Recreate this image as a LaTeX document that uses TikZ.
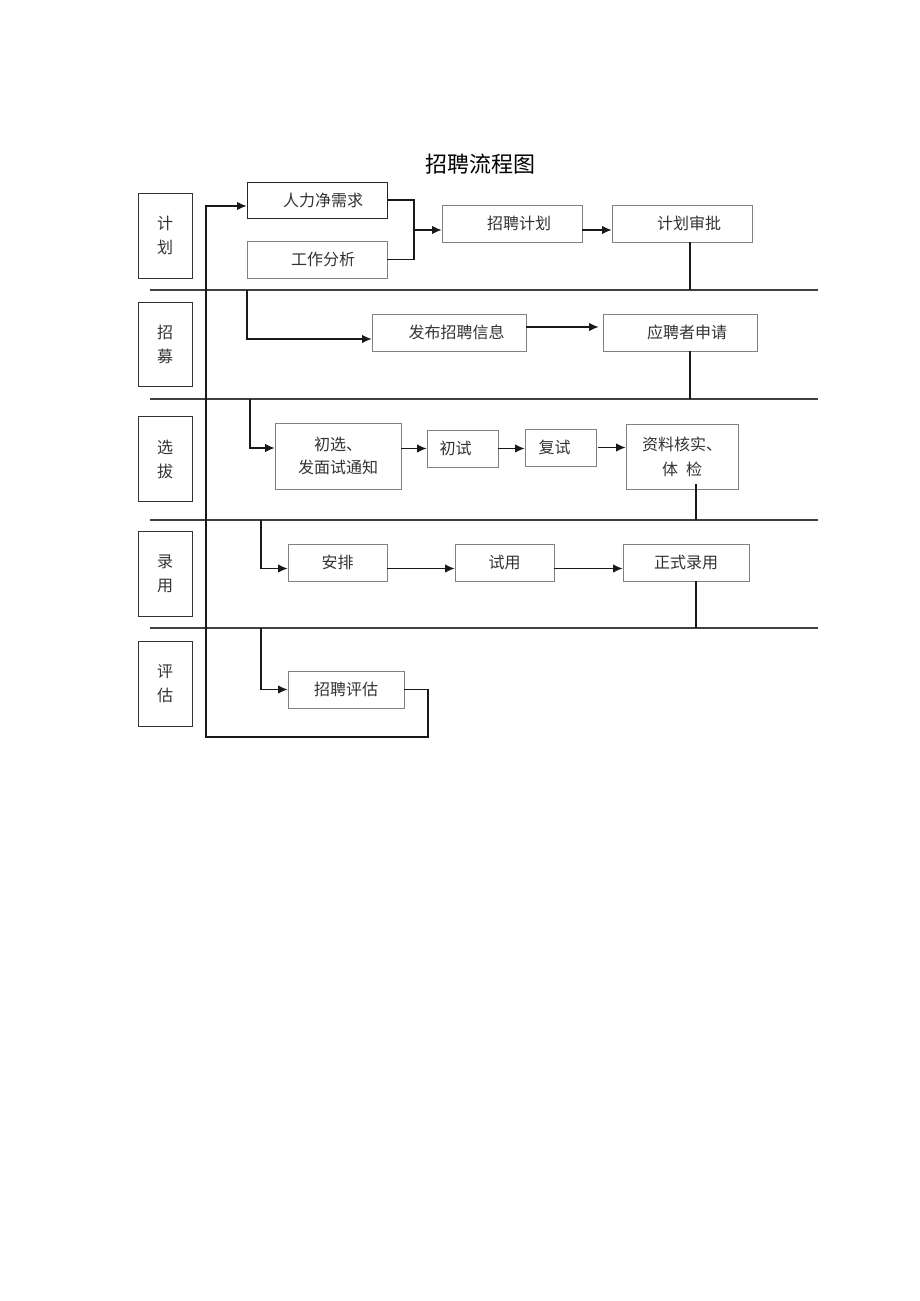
\documentclass[tikz,border=0pt]{standalone}
\usepackage{fontspec}
\setmainfont{Noto Sans CJK SC}
\usetikzlibrary{arrows.meta}
\begin{document}
\begin{tikzpicture}[x=1pt,y=-1pt,
  lane/.style={draw=black!80, line width=0.9pt, minimum width=54pt, minimum height=85pt, inner sep=0pt, align=center, font=\fontsize{16}{24}\selectfont, text=black!80},
  box/.style={draw=black!50, line width=0.9pt, minimum height=37pt, inner sep=0pt, align=center, font=\fontsize{16}{23}\selectfont, text=black!80},
  darkbox/.style={box, draw=black!85},
  conn/.style={draw=black!90, line width=1.2pt},
  arr/.style={conn, -{Latex[length=9.5pt,width=8.5pt]}},
  sep/.style={draw=black!75, line width=1.5pt}]
\useasboundingbox (0,0) rectangle (920,1301);
\fill[white] (0,0) rectangle (920,1301);

% title
\node[font=\fontsize{22}{26}\selectfont] (title) at (480,164) {招聘流程图};

% lane labels
\node[lane] (l1) at (165,235.5) {计\\划};
\node[lane, minimum height=84pt] (l2) at (165,344.5) {招\\募};
\node[lane] (l3) at (165,459) {选\\拔};
\node[lane] (l4) at (165,574) {录\\用};
\node[lane] (l5) at (165,683.5) {评\\估};

% separators
\coordinate (s1l) at (150,290); \coordinate (s1r) at (818,290);
\coordinate (s2l) at (150,399); \coordinate (s2r) at (818,399);
\coordinate (s3l) at (150,520); \coordinate (s3r) at (818,520);
\coordinate (s4l) at (150,628); \coordinate (s4r) at (818,628);
\draw[sep] (s1l) -- (s1r);
\draw[sep] (s2l) -- (s2r);
\draw[sep] (s3l) -- (s3r);
\draw[sep] (s4l) -- (s4r);

% boxes
\node[darkbox, minimum width=140pt, minimum height=36pt] (rl) at (317,200) {\hspace*{12pt}人力净需求};
\node[box, minimum width=140pt] (gz) at (317,259.5) {\hspace*{12pt}工作分析};
\node[box, minimum width=140pt] (zp) at (512,223.5) {\hspace*{14pt}招聘计划};
\node[box, minimum width=140pt] (sp) at (682,223.5) {\hspace*{14pt}计划审批};
\node[box, minimum width=154pt] (fb) at (449,332.5) {\hspace*{15pt}发布招聘信息};
\node[box, minimum width=154pt] (yp) at (680,332.5) {\hspace*{14pt}应聘者申请};
\node[box, minimum width=126pt, minimum height=66pt] (cx) at (338,456) {初选、\\发面试通知};
\node[box, minimum width=71pt] (cs) at (462.5,448.5) {初试\hspace*{14pt}};
\node[box, minimum width=71pt] (fs) at (560.5,447.5) {复试\hspace*{12pt}};
\node[box, minimum width=112pt, minimum height=65pt, font=\fontsize{16}{25}\selectfont] (zl) at (682,456.5) {资料核实、\\体\hspace{8pt}检};
\node[box, minimum width=99pt] (ap) at (337.5,562.5) {安排};
\node[box, minimum width=99pt] (sy) at (504.5,562.5) {试用};
\node[box, minimum width=126pt] (zs) at (686,562.5) {正式录用};
\node[box, minimum width=116pt] (pg) at (346,689.5) {招聘评估};

% feedback loop
\coordinate (loopin) at (206,206);
\draw[arr] (pg.east) -| (428,737) -| (loopin) -- (loopin -| rl.west);

% planning lane
\coordinate (jn) at (414,230);
\draw[conn] (rl.east) -| (jn) |- (gz.east);
\draw[arr] (jn) -- (jn -| zp.west);
\draw[arr] ([yshift=-6.5pt]zp.east) -- ([yshift=-6.5pt]sp.west);
\draw[conn] ([xshift=8pt]sp.south) -- ([xshift=8pt]sp.south |- s1r);

% recruiting lane
\coordinate (d1) at (247,290);
\draw[arr] (d1) |- ([yshift=-6.5pt]fb.west);
\draw[arr] ([yshift=5.5pt]fb.east) -- ([yshift=5.5pt,xshift=-4pt]yp.west);
\draw[conn] ([xshift=10pt]yp.south) -- ([xshift=10pt]yp.south |- s2r);

% selection lane
\coordinate (d2) at (250,399);
\draw[arr] (d2) |- ([yshift=8pt]cx.west);
\draw[arr] (cs.west -| cx.east) -- (cs.west);
\draw[arr] (cs.east) -- (cs.east -| fs.west);
\draw[arr] ([xshift=2pt]fs.east) -- (fs.east -| zl.west);
\draw[conn] ([xshift=14pt,yshift=5pt]zl.south) -- ([xshift=14pt]zl.south |- s3r);

% hiring lane
\coordinate (d3) at (261,520);
\draw[arr] (d3) |- ([yshift=-6pt]ap.west);
\draw[arr] ([yshift=-6pt]ap.east) -- ([yshift=-6pt]sy.west);
\draw[arr] ([yshift=-6pt]sy.east) -- ([yshift=-6pt]zs.west);
\draw[conn] ([xshift=10pt]zs.south) -- ([xshift=10pt]zs.south |- s4r);

% evaluation lane
\coordinate (d4) at (261,628);
\draw[arr] (d4) |- (pg.west);
\end{tikzpicture}
\end{document}
